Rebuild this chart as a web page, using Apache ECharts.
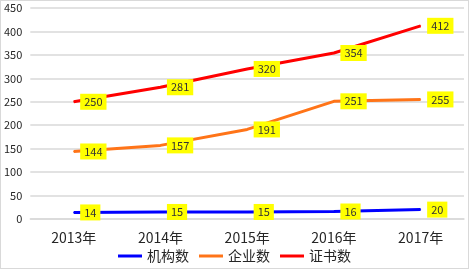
<!DOCTYPE html>
<html>
<head>
<meta charset="utf-8">
<script src="https://cdn.jsdelivr.net/npm/echarts@6/dist/echarts.min.js"></script>
<style>
html, body { margin: 0; padding: 0; background: #fff; }
#box { position: absolute; left: 0; top: 0; width: 467px; height: 267px; border: 1px solid #d9d9d9; }
</style>
</head>
<body>
<div id="box"></div>
<script>
var years = ['2013年', '2014年', '2015年', '2016年', '2017年'];
var jigou = [14, 15, 15, 16, 20];
var qiye = [144, 157, 191, 251, 255];
var zhengshu = [250, 281, 320, 354, 412];
var yTicks = { min: 0, max: 450, interval: 50 };

var font = '"Noto Sans CJK SC", "Liberation Sans", sans-serif';
var makeSeries = function (name, data, color) {
    return {
        name: name,
        type: 'line',
        data: data,
        symbol: 'circle',
        symbolSize: 1,
        showSymbol: true,
        lineStyle: { color: color, width: 3 },
        itemStyle: { color: color },
        label: {
            show: true,
            position: 'right',
            distance: 6,
            color: '#333333',
            fontSize: 11,
            fontFamily: font,
            backgroundColor: '#ffff00',
            padding: [3, 4, 2, 4]
        }
    };
};

var box = echarts.init(document.getElementById('box'));
var option = {
    animation: false,
    grid: { left: 28, right: 4, top: 7, bottom: 49 },
    legend: {
        bottom: 0,
        left: 'center',
        itemWidth: 24,
        itemHeight: 3,
        itemGap: 10,
        icon: 'rect',
        textStyle: { fontSize: 14, color: '#262626', fontFamily: font },
        data: ['机构数', '企业数', '证书数']
    },
    xAxis: {
        type: 'category',
        data: years,
        boundaryGap: true,
        axisLine: { lineStyle: { color: '#d9d9d9', width: 1.5 } },
        axisTick: { show: false },
        axisLabel: { color: '#262626', fontSize: 14, fontFamily: font, margin: 12 }
    },
    yAxis: {
        type: 'value',
        min: yTicks.min,
        max: yTicks.max,
        interval: yTicks.interval,
        axisLine: { show: false },
        axisTick: { show: false },
        axisLabel: { color: '#262626', fontSize: 11, fontFamily: font, margin: 8 },
        splitLine: { lineStyle: { color: '#d9d9d9', width: 1.5 } }
    },
    series: [
        makeSeries('机构数', jigou, '#0000ff'),
        makeSeries('企业数', qiye, '#ff7418'),
        makeSeries('证书数', zhengshu, '#ff0000')
    ]
};
box.setOption(option);
</script>
</body>
</html>
